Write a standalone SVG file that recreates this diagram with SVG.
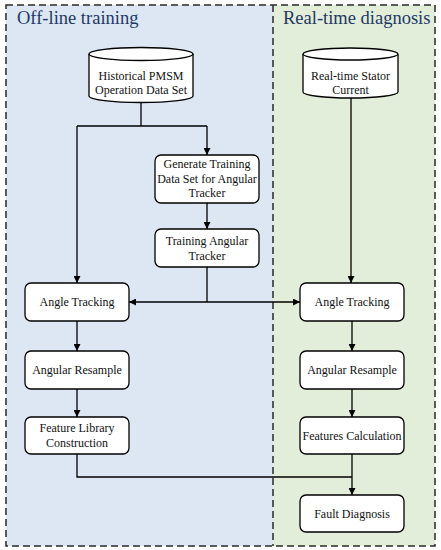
<svg xmlns="http://www.w3.org/2000/svg" width="441" height="550" viewBox="0 0 441 550">
<defs>
<marker id="ah" viewBox="0 0 10 10" refX="10" refY="5" markerWidth="7" markerHeight="7" markerUnits="userSpaceOnUse" orient="auto">
<path d="M0,0 L10,5 L0,10 z" fill="#000"/>
</marker>
<style>
.box{fill:#fff;stroke:#000;stroke-width:1.3}
.t{font-family:"Liberation Serif",serif;font-size:12px;fill:#111;text-anchor:middle}
.title{font-family:"Liberation Serif",serif;font-size:18.5px;fill:#1f3864}
.c{fill:none;stroke:#000;stroke-width:1.3}
.frame{fill:none;stroke:#2a2a2a;stroke-width:1.5;stroke-dasharray:7,4}
</style>
</defs>
<rect x="0" y="0" width="441" height="550" fill="#fff"/>
<rect x="6" y="5" width="267" height="541" fill="#dce7f3"/>
<rect x="273" y="5" width="162" height="541" fill="#e2eed9"/>
<rect class="frame" x="6" y="5" width="429" height="541"/>
<line class="frame" x1="273" y1="5" x2="273" y2="546"/>
<text class="title" x="17" y="24">Off-line training</text>
<text class="title" x="283" y="24">Real-time diagnosis</text>

<g id="connectors">
<path class="c" d="M141,102 V126"/>
<path class="c" d="M77,126 H207"/>
<path class="c" d="M77,126 V283" marker-end="url(#ah)"/>
<path class="c" d="M207,126 V155" marker-end="url(#ah)"/>
<path class="c" d="M207,203 V229" marker-end="url(#ah)"/>
<path class="c" d="M207,267 V302"/>
<path class="c" d="M207,302 H129" marker-end="url(#ah)"/>
<path class="c" d="M207,302 H300" marker-end="url(#ah)"/>
<path class="c" d="M351,98 V283" marker-end="url(#ah)"/>
<path class="c" d="M77,321 V351" marker-end="url(#ah)"/>
<path class="c" d="M77,389 V417" marker-end="url(#ah)"/>
<path class="c" d="M352,321 V351" marker-end="url(#ah)"/>
<path class="c" d="M352,389 V417" marker-end="url(#ah)"/>
<path class="c" d="M77,454 V477 H352"/>
<path class="c" d="M352,454 V495" marker-end="url(#ah)"/>
</g>

<g id="historical">
<path class="box" d="M89,54 V96 A52,6.5 0 0 0 193,96 V54 A52,6.5 0 0 0 89,54 Z"/>
<path class="c" d="M89,54 A52,6.5 0 0 0 193,54"/>
<text class="t" x="141" y="80">Historical PMSM</text>
<text class="t" x="141" y="94">Operation Data Set</text>
</g>
<g id="stator">
<path class="box" d="M303,54 V92 A47.5,6 0 0 0 398,92 V54 A47.5,6 0 0 0 303,54 Z"/>
<path class="c" d="M303,54 A47.5,6 0 0 0 398,54"/>
<text class="t" x="350.5" y="80">Real-time Stator</text>
<text class="t" x="350.5" y="94">Current</text>
</g>
<g id="generate">
<rect class="box" x="155" y="155" width="104" height="48" rx="6"/>
<text class="t" x="207" y="168">Generate Training</text>
<text class="t" x="207" y="183">Data Set for Angular</text>
<text class="t" x="207" y="197">Tracker</text>
</g>
<g id="training">
<rect class="box" x="155" y="229" width="104" height="38" rx="6"/>
<text class="t" x="207" y="245">Training Angular</text>
<text class="t" x="207" y="260">Tracker</text>
</g>
<g id="angle-left">
<rect class="box" x="25" y="283" width="104" height="38" rx="6"/>
<text class="t" x="77" y="306">Angle Tracking</text>
</g>
<g id="resample-left">
<rect class="box" x="25" y="351" width="104" height="38" rx="6"/>
<text class="t" x="77" y="374">Angular Resample</text>
</g>
<g id="library">
<rect class="box" x="25" y="417" width="104" height="37" rx="6"/>
<text class="t" x="77" y="432">Feature Library</text>
<text class="t" x="77" y="447">Construction</text>
</g>
<g id="angle-right">
<rect class="box" x="300" y="283" width="104" height="38" rx="6"/>
<text class="t" x="352" y="306">Angle Tracking</text>
</g>
<g id="resample-right">
<rect class="box" x="300" y="351" width="104" height="38" rx="6"/>
<text class="t" x="352" y="374">Angular Resample</text>
</g>
<g id="features">
<rect class="box" x="300" y="417" width="104" height="37" rx="6"/>
<text class="t" x="352" y="440">Features Calculation</text>
</g>
<g id="fault">
<rect class="box" x="300" y="495" width="104" height="37" rx="6"/>
<text class="t" x="352" y="518">Fault Diagnosis</text>
</g>
</svg>
